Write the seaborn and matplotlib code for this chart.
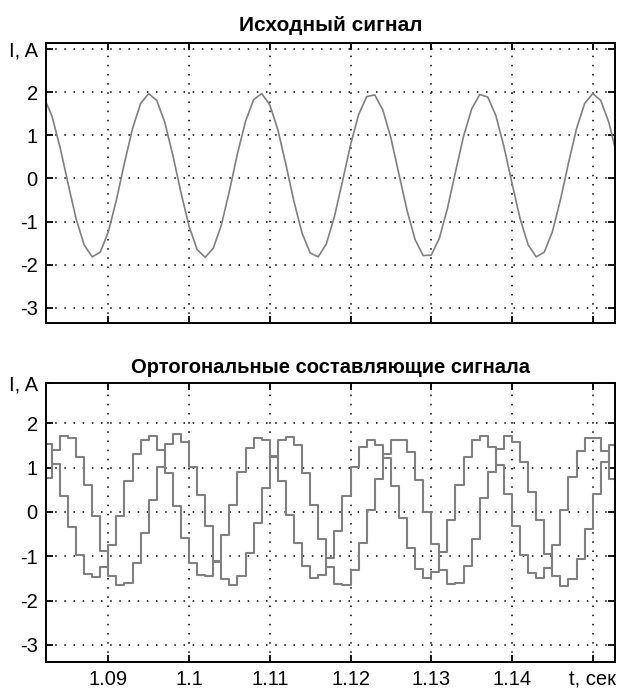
import numpy as np
import pandas as pd
import matplotlib
matplotlib.use("Agg")
import matplotlib.pyplot as plt
import seaborn as sns

# ---- data ----
t_start = 1.082          # first sample time, s
t_step = 0.001           # sampling step, s
signal = [1.89, 1.46, 0.74, -0.11, -0.93, -1.54, -1.82, -1.71, -1.24, -0.50,
          0.36, 1.16, 1.74, 1.97, 1.81, 1.30, 0.53, -0.33, -1.11, -1.65,
          -1.83, -1.62, -1.08, -0.29, 0.58, 1.33, 1.83, 1.97, 1.71, 1.13,
          0.32, -0.54, -1.27, -1.73, -1.82, -1.52, -0.89, -0.07, 0.78, 1.48,
          1.90, 1.94, 1.59, 0.94, 0.10, -0.74, -1.42, -1.79, -1.78, -1.39,
          -0.70, 0.15, 0.98, 1.61, 1.95, 1.89, 1.46, 0.74, -0.11, -0.93,
          -1.54, -1.82, -1.71, -1.24, -0.50, 0.36, 1.16, 1.74, 1.97, 1.81,
          1.30, 0.53]
comp_a = [0.76, 1.40, 1.71, 1.66, 1.25, 0.61, -0.10, -0.88, -1.44, -1.64,
          -1.60, -1.14, -0.47, 0.28, 1.02, 1.54, 1.75, 1.58, 1.02, 0.39,
          -0.32, -1.12, -1.51, -1.64, -1.44, -0.92, -0.25, 0.54, 1.26, 1.63,
          1.69, 1.51, 0.87, 0.16, -0.60, -1.25, -1.62, -1.65, -1.30, -0.70,
          0.05, 0.75, 1.31, 1.62, 1.62, 1.36, 0.72, 0.01, -0.72, -1.30,
          -1.62, -1.60, -1.22, -0.60, 0.31, 0.91, 1.43, 1.71, 1.58, 1.13,
          0.46, -0.17, -0.95, -1.45, -1.66, -1.52, -1.05, -0.38, 0.41, 1.12,
          1.50, 1.70]
comp_b = [1.54, 1.08, 0.37, -0.34, -0.97, -1.40, -1.46, -1.25, -0.75, -0.10,
          0.69, 1.30, 1.62, 1.71, 1.40, 0.87, 0.13, -0.58, -1.14, -1.43,
          -1.44, -1.10, -0.51, 0.16, 0.91, 1.45, 1.66, 1.62, 1.25, 0.69,
          -0.06, -0.70, -1.22, -1.48, -1.42, -1.03, -0.43, 0.35, 1.02, 1.47,
          1.63, 1.52, 1.22, 0.58, -0.14, -0.81, -1.29, -1.50, -1.36, -0.90,
          -0.18, 0.61, 1.25, 1.62, 1.71, 1.47, 1.07, 0.40, -0.32, -0.96,
          -1.37, -1.48, -1.26, -0.75, 0.05, 0.78, 1.38, 1.66, 1.66, 1.38,
          0.75, 0.10]
x_ticks = [1.09, 1.10, 1.11, 1.12, 1.13, 1.14, 1.15]
x_tick_labels = ["1.09", "1.1", "1.11", "1.12", "1.13", "1.14", "t, сек"]
y_ticks = [-3, -2, -1, 0, 1, 2]
y_tick_labels = ["-3", "-2", "-1", "0", "1", "2"]
y_unit = "I, A"
title_top = "Исходный сигнал"
title_bottom = "Ортогональные составляющие сигнала"

t = np.round(t_start + t_step * np.arange(len(signal)), 4)
df_sig = pd.DataFrame({"t": t, "I": signal})
df_comp = pd.DataFrame({
    "t": np.concatenate([t, t]),
    "I": comp_a + comp_b,
    "comp": ["a"] * len(comp_a) + ["b"] * len(comp_b),
})

# ---- style ----
sns.set_theme(style="white")
plt.rcParams["font.family"] = ["Liberation Sans", "DejaVu Sans"]
plt.rcParams["axes.unicode_minus"] = False

W, H = 617, 691
fig = plt.figure(figsize=(W / 100, H / 100), dpi=100)
ax1 = fig.add_axes([46 / W, 1 - 322.7 / H, (615 - 46) / W, (322.7 - 43.3) / H])
ax2 = fig.add_axes([46 / W, 1 - 661.7 / H, (615 - 46) / W, (661.7 - 382.7) / H])

line_col = "#808080"
sns.lineplot(data=df_sig, x="t", y="I", ax=ax1, color=line_col, lw=1.2,
             estimator=None, legend=False)
sns.lineplot(data=df_comp, x="t", y="I", hue="comp", ax=ax2,
             palette=[line_col, line_col], lw=1.5, estimator=None,
             legend=False, drawstyle="steps-post")

xlim = (1.08228, 1.15276)
grid_ls = (0, (1, 5))
for ax, ylim in ((ax1, (-3.348, 3.137)), (ax2, (-3.377, 2.916))):
    ax.set_xlim(*xlim)
    ax.set_ylim(*ylim)
    ax.set_xlabel("")
    ax.set_ylabel("")
    ax.set_xticks(x_ticks)
    if ylim[1] > 3:
        ax.set_yticks(y_ticks + [3])
    else:
        ax.set_yticks(y_ticks + [ylim[1]])
    ax.set_yticklabels(y_tick_labels + [y_unit])
    ax.grid(True, color="black", linestyle=grid_ls, linewidth=1.1)
    ax.tick_params(direction="in", length=5, width=1.3, top=True, right=True,
                   bottom=True, left=True, labelsize=14.5, pad=6,
                   colors="black", labelcolor="black")
    for s in ax.spines.values():
        s.set_visible(True)
        s.set_color("black")
        s.set_linewidth(1.4)

ax1.set_xticklabels([])
ax2.set_xticklabels(x_tick_labels)
ax1.set_title(title_top, fontsize=15, fontweight="bold", pad=9, color="black")
ax2.set_title(title_bottom, fontsize=14.5, fontweight="bold", pad=7,
              color="black")

fig.savefig("out.png", dpi=100)
